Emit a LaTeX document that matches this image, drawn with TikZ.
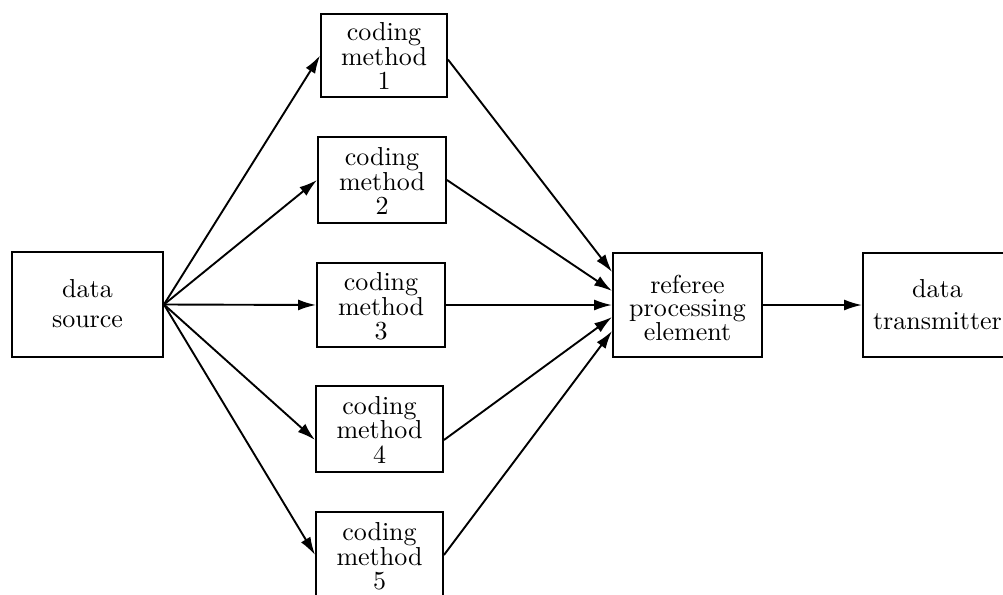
\documentclass[tikz,border=0pt]{standalone}
\usetikzlibrary{arrows.meta}
\newcommand\boxlbl[3]{\raisebox{-#3pt}[\height][\depth]{\scalebox{2.6}{\fontsize{10}{#1}\selectfont\begin{tabular}{@{}c@{}}#2\end{tabular}}}}
\begin{document}
\begin{tikzpicture}[x=1pt,y=-1pt,
  box/.style={draw, line width=1.9pt, rectangle, align=center, inner sep=0pt},
  arr/.style={line width=1.9pt, -{Latex[length=18pt,width=11pt]}}]
\useasboundingbox (0,0) rectangle (1003,594);
\clip (0,0) rectangle (1003,594);
\node[box, minimum width=151pt, minimum height=105pt] (src) at (87.5,304.5) {\boxlbl{11.7}{data\\source}{2}};
\node[box, minimum width=126pt, minimum height=83pt] (m1) at (384,55.5) {\boxlbl{8.5}{coding\\method\\1}{4}};
\node[box, minimum width=128pt, minimum height=86pt] (m2) at (382,180) {\boxlbl{8.5}{coding\\method\\2}{4}};
\node[box, minimum width=128pt, minimum height=84pt] (m3) at (381,305) {\boxlbl{8.5}{coding\\method\\3}{4}};
\node[box, minimum width=127pt, minimum height=86pt] (m4) at (379.5,429) {\boxlbl{8.5}{coding\\method\\4}{4}};
\node[box, minimum width=127pt, minimum height=86pt] (m5) at (379.5,555) {\boxlbl{8.5}{coding\\method\\5}{4}};
\node[box, minimum width=149pt, minimum height=104pt] (ref) at (687.5,305) {\boxlbl{8.2}{referee\\processing\\element}{6}};
\node[box, minimum width=149pt, minimum height=104pt] (tx) at (937.5,305) {\boxlbl{12.4}{data\\transmitter}{2}};
\draw[arr] (src.east) -- (m1.west);
\draw[arr] (src.east) -- (m2.west);
\draw[arr] (src.east) -- (m3.west);
\draw[arr] (src.east) -- ([yshift=-11pt]m4.west);
\draw[arr] (src.east) -- (m5.west);
\draw[arr] ([yshift=-4pt]m1.east) -- ([yshift=33pt]ref.west);
\draw[arr] (m2.east) -- ([yshift=14pt]ref.west);
\draw[arr] (m3.east) -- (ref.west);
\draw[arr] ([yshift=-11pt]m4.east) -- ([yshift=-12pt]ref.west);
\draw[arr] (m5.east) -- ([yshift=-26pt]ref.west);
\draw[arr] (ref.east) -- (tx.west);
\end{tikzpicture}
\end{document}
